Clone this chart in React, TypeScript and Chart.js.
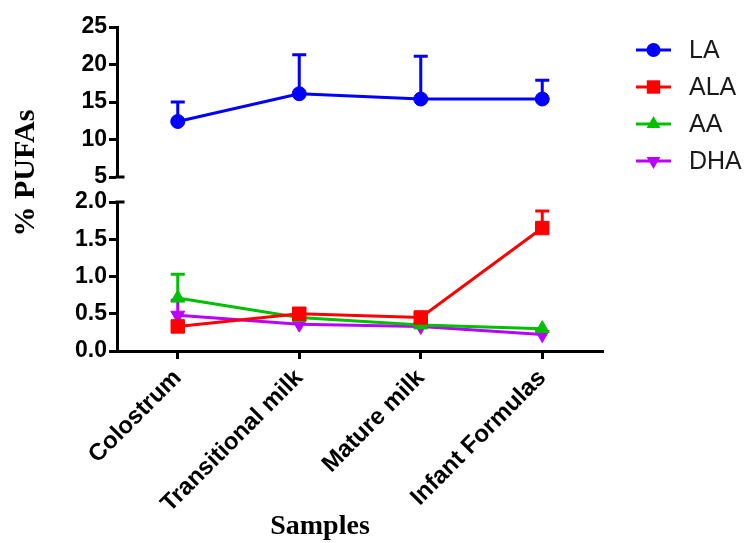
import React, { useEffect, useRef } from "react";
import { Chart, registerables } from "chart.js";

Chart.register(...registerables);

const categories = ["Colostrum", "Transitional milk", "Mature milk", "Infant Formulas"];

const laValues = [12.4, 16.1, 15.4, 15.4];
const laErrors = [2.6, 5.2, 5.7, 2.5];
const alaValues = [0.33, 0.5, 0.45, 1.65];
const alaErrors = [0, 0.07, 0.05, 0.23];
const aaValues = [0.71, 0.45, 0.35, 0.3];
const aaErrors = [0.32, 0, 0, 0];
const dhaValues = [0.48, 0.36, 0.33, 0.22];
const dhaErrors = [0.2, 0, 0, 0];

const topTicks = [5, 10, 15, 20, 25];
const bottomTicks = [0, 0.5, 1.0, 1.5, 2.0];

const yTitle = "% PUFAs";
const xTitle = "Samples";

const SANS = "'Liberation Sans', Arial, sans-serif";
const SERIF = "'Liberation Serif', 'Times New Roman', serif";

function drawMarker(ctx: CanvasRenderingContext2D, style: string, x: number, y: number, r: number, rot: number) {
  ctx.beginPath();
  if (style === "circle") {
    ctx.arc(x, y, r, 0, Math.PI * 2);
  } else if (style === "rect") {
    const s = Math.SQRT1_2 * r;
    ctx.rect(x - s, y - s, 2 * s, 2 * s);
  } else {
    let rad = (rot * Math.PI) / 180;
    ctx.moveTo(x + Math.sin(rad) * r, y - Math.cos(rad) * r);
    rad += (2 * Math.PI) / 3;
    ctx.lineTo(x + Math.sin(rad) * r, y - Math.cos(rad) * r);
    rad += (2 * Math.PI) / 3;
    ctx.lineTo(x + Math.sin(rad) * r, y - Math.cos(rad) * r);
    ctx.closePath();
  }
  ctx.fill();
}

const errorBarPlugin = {
  id: "errorBars",
  beforeDatasetsDraw(chart: any) {
    const ctx = chart.ctx as CanvasRenderingContext2D;
    chart.data.datasets.forEach((ds: any, i: number) => {
      const meta = chart.getDatasetMeta(i);
      const scale = chart.scales[ds.yAxisID];
      ctx.save();
      ctx.strokeStyle = ds.borderColor;
      ctx.lineWidth = 3;
      meta.data.forEach((pt: any, j: number) => {
        const err = ds.errors[j];
        if (!err) return;
        const yTop = scale.getPixelForValue(ds.data[j] + err);
        ctx.beginPath();
        ctx.moveTo(pt.x, pt.y);
        ctx.lineTo(pt.x, yTop);
        ctx.moveTo(pt.x - 7, yTop);
        ctx.lineTo(pt.x + 7, yTop);
        ctx.stroke();
      });
      ctx.restore();
    });
  },
};

const decorPlugin = {
  id: "decor",
  afterDraw(chart: any) {
    const ctx = chart.ctx as CanvasRenderingContext2D;
    const top = chart.scales.yTop;
    const bot = chart.scales.yBot;
    const axisX = chart.chartArea.left - 1.5;
    ctx.save();
    // axis break stubs
    ctx.strokeStyle = "#000";
    ctx.lineWidth = 3;
    ctx.beginPath();
    const y5 = top.getPixelForValue(topTicks[0]);
    const y2 = bot.getPixelForValue(bottomTicks[bottomTicks.length - 1]);
    ctx.moveTo(axisX, y5);
    ctx.lineTo(axisX + 9, y5);
    ctx.moveTo(axisX, y2);
    ctx.lineTo(axisX + 9, y2);
    ctx.stroke();

    // axis titles
    ctx.fillStyle = "#000";
    ctx.font = `bold 30px ${SERIF}`;
    ctx.textAlign = "center";
    ctx.textBaseline = "alphabetic";
    ctx.save();
    ctx.translate(34, 173);
    ctx.rotate(-Math.PI / 2);
    ctx.fillText(yTitle, 0, 0);
    ctx.restore();
    ctx.font = `bold 28px ${SERIF}`;
    ctx.fillText(xTitle, 320, 534);

    // legend
    const rows = [50, 87, 124, 161];
    chart.data.datasets.forEach((ds: any, i: number) => {
      const y = rows[i];
      ctx.strokeStyle = ds.borderColor;
      ctx.fillStyle = ds.borderColor;
      ctx.lineWidth = 3;
      ctx.beginPath();
      ctx.moveTo(636, y);
      ctx.lineTo(671, y);
      ctx.stroke();
      drawMarker(ctx, ds.pointStyle, 653.5, y, ds.pointRadius, ds.pointRotation || 0);
      ctx.fillStyle = "#1a1a1a";
      ctx.font = `25px ${SANS}`;
      ctx.textAlign = "left";
      ctx.textBaseline = "middle";
      ctx.fillText(ds.label, 689, y + 1);
    });
    ctx.restore();
  },
};

export default function App() {
  const ref = useRef<HTMLCanvasElement | null>(null);
  useEffect(() => {
    if (!ref.current) return;
    const yTickFont = { family: SANS, size: 23, weight: "bold" as const };
    const xTickFont = { family: SANS, size: 24, weight: "bold" as const };
    const chart = new Chart(ref.current, {
      type: "line",
      data: {
        labels: categories,
        datasets: [
          {
            label: "LA",
            data: laValues,
            errors: laErrors,
            yAxisID: "yTop",
            borderColor: "#0000FF",
            backgroundColor: "#0000FF",
            pointStyle: "circle",
            pointRadius: 7,
            borderWidth: 3,
            pointBorderWidth: 1,
          } as any,
          {
            label: "ALA",
            data: alaValues,
            errors: alaErrors,
            yAxisID: "yBot",
            borderColor: "#FF0000",
            backgroundColor: "#FF0000",
            pointStyle: "rect",
            pointRadius: 9.5,
            borderWidth: 3,
            pointBorderWidth: 1,
          } as any,
          {
            label: "AA",
            data: aaValues,
            errors: aaErrors,
            yAxisID: "yBot",
            borderColor: "#00C000",
            backgroundColor: "#00C000",
            pointStyle: "triangle",
            pointRadius: 8,
            borderWidth: 3,
            pointBorderWidth: 1,
          } as any,
          {
            label: "DHA",
            data: dhaValues,
            errors: dhaErrors,
            yAxisID: "yBot",
            borderColor: "#BB00FF",
            backgroundColor: "#BB00FF",
            pointStyle: "triangle",
            pointRotation: 180,
            pointRadius: 8,
            borderWidth: 3,
            pointBorderWidth: 1,
          } as any,
        ],
      },
      options: {
        responsive: false,
        animation: false,
        events: [],
        layout: { padding: { top: 27, right: 143, left: 0, bottom: 0 } },
        plugins: { legend: { display: false }, tooltip: { enabled: false } },
        scales: {
          x: {
            type: "category",
            offset: true,
            grid: { display: true, drawOnChartArea: false, offset: false, tickLength: 8, tickWidth: 3, tickColor: "#000" },
            border: { color: "#000", width: 3 },
            ticks: { color: "#000", font: xTickFont, minRotation: 45, maxRotation: 45, padding: 5, autoSkip: false },
            afterFit: (s: any) => {
              s.height = 192;
            },
          },
          yTop: {
            type: "linear",
            position: "left",
            stack: "y",
            stackWeight: 150,
            weight: 3,
            min: topTicks[0],
            max: topTicks[topTicks.length - 1],
            afterBuildTicks: (s: any) => {
              s.ticks = topTicks.map((v) => ({ value: v }));
            },
            grid: { display: true, drawOnChartArea: false, tickLength: 8, tickWidth: 3, tickColor: "#000" },
            border: { color: "#000", width: 3 },
            ticks: { color: "#000", font: yTickFont, padding: 2, autoSkip: false, callback: (v: any) => String(v) },
            afterFit: (s: any) => {
              s.width = 117;
            },
          },
          ySpace: {
            type: "linear",
            position: "left",
            stack: "y",
            stackWeight: 25,
            weight: 2,
            display: false,
            afterFit: (s: any) => {
              s.width = 117;
            },
          },
          yBot: {
            type: "linear",
            position: "left",
            stack: "y",
            stackWeight: 149,
            weight: 1,
            min: bottomTicks[0],
            max: bottomTicks[bottomTicks.length - 1],
            afterBuildTicks: (s: any) => {
              s.ticks = bottomTicks.map((v) => ({ value: v }));
            },
            grid: { display: true, drawOnChartArea: false, tickLength: 8, tickWidth: 3, tickColor: "#000" },
            border: { color: "#000", width: 3 },
            ticks: { color: "#000", font: yTickFont, padding: 2, autoSkip: false, callback: (v: any) => Number(v).toFixed(1) },
            afterFit: (s: any) => {
              s.width = 117;
            },
          },
        },
      } as any,
      plugins: [errorBarPlugin, decorPlugin],
    });
    return () => chart.destroy();
  }, []);
  return (
    <div style={{ position: "fixed", left: 0, top: 0, width: 746, height: 543, background: "#fff" }}>
      <canvas ref={ref} width={746} height={543} style={{ display: "block" }} />
    </div>
  );
}
